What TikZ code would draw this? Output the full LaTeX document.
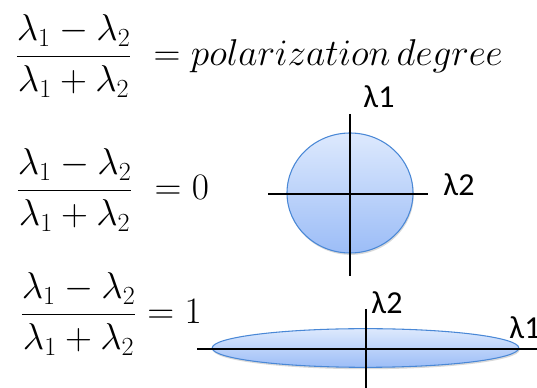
\documentclass[tikz,border=0pt]{standalone}
\usepackage{fix-cm}
\usepackage{fontspec}
\newfontfamily\labfont{Carlito}
\usetikzlibrary{shadows,shapes.geometric}
\definecolor{ellborder}{HTML}{4A88D6}
\definecolor{elltop}{HTML}{DDE9FD}
\definecolor{ellbot}{HTML}{9CBDF7}
\tikzset{
  eqn/.style={inner sep=0pt, anchor=base west, font=\fontsize{28}{32}\selectfont},
  blob/.style={ellipse, draw=ellborder, line width=0.8pt, top color=elltop, bottom color=ellbot,
     inner sep=0pt, drop shadow={opacity=0.3, shadow xshift=0.6pt, shadow yshift=-1.4pt}},
  axis/.style={line width=2.1pt, black},
  axlab/.style={inner sep=0pt, font=\labfont\fontsize{24}{28}\selectfont}
}
\begin{document}
\begin{tikzpicture}[x=0.75pt,y=-0.75pt]
\useasboundingbox (0,0) rectangle (537,388);
% equations
\node[eqn] (eq1) at (15,66) {$\displaystyle\frac{\lambda_1-\lambda_2}{\lambda_1+\lambda_2}\ = polarization\,degree$};
\node[eqn] (eq2) at (16,200) {$\displaystyle\frac{\lambda_1-\lambda_2}{\lambda_1+\lambda_2}\ = 0$};
\node[eqn] (eq3) at (20,324) {$\displaystyle\frac{\lambda_1-\lambda_2}{\lambda_1+\lambda_2} = 1$};
% circle
\node[blob, minimum width=94.5pt, minimum height=90pt] (circ) at (350,193) {};
\coordinate (cT) at (350,114);
\coordinate (cB) at (350,276);
\coordinate (cL) at (268,194);
\coordinate (cR) at (428,194);
\draw[axis] (cT) -- (cB);
\draw[axis] (cL) -- (cR);
\node[axlab] (l1a) at (379,97) {λ1};
\node[axlab] (l2a) at (459,185) {λ2};
% flat ellipse
\node[blob, minimum width=230pt, minimum height=29pt] (flat) at (365.5,348) {};
\coordinate (eT) at (366,309);
\coordinate (eB) at (366,388);
\coordinate (eL) at (197,349);
\coordinate (eR) at (537,349);
\draw[axis] (eT) -- (eB);
\draw[axis] (eL) -- (eR);
\node[axlab] (l2b) at (387,303) {λ2};
\node[axlab] (l1b) at (525,328) {λ1};
\end{tikzpicture}
\end{document}
